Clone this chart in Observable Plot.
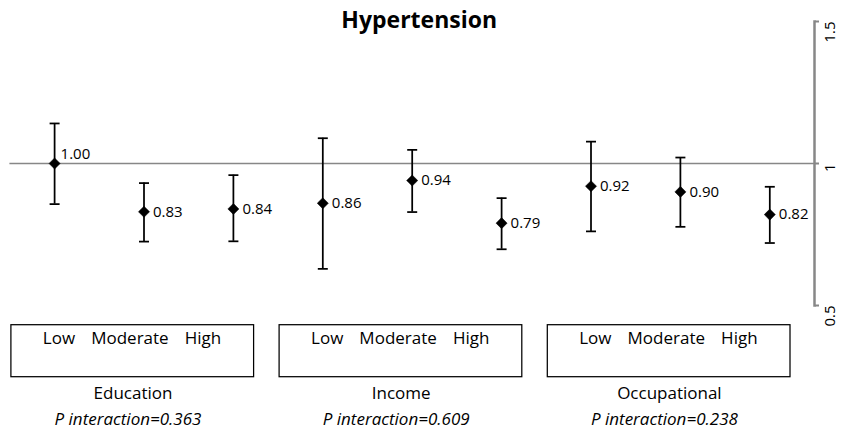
<!DOCTYPE html>
<html><head><meta charset="utf-8">
<script src="https://cdn.jsdelivr.net/npm/d3@7"></script>
<script src="https://cdn.jsdelivr.net/npm/@observablehq/plot@0.6"></script>
<style>body{margin:0;background:#fff;}</style>
</head><body><div id="chart"></div>
<script>
const title = "Hypertension";
const groups = ["Education", "Income", "Occupational"];
const pInteraction = ["0.363", "0.609", "0.238"];
const levels = ["Low", "Moderate", "High"];
const estimates = [1.00, 0.83, 0.84, 0.86, 0.94, 0.79, 0.92, 0.90, 0.82];
const lower = [0.857, 0.725, 0.726, 0.629, 0.829, 0.698, 0.761, 0.777, 0.720];
const upper = [1.141, 0.931, 0.959, 1.089, 1.048, 0.878, 1.077, 1.021, 0.918];
const yTicks = [0.5, 1, 1.5];

const n = levels.length;
const points = estimates.map((est, i) => ({
  i, group: groups[Math.floor(i / n)], level: levels[i % n],
  est, lo: lower[i], hi: upper[i], ref: i === 0
}));
const groupRows = groups.map((g, k) => ({
  g, p: pInteraction[k], start: k * n - 0.5, end: (k + 1) * n - 0.5, mid: k * n + (n - 1) / 2
}));

const gray = "#878787";
const gap = "\u00a0\u00a0\u00a0\u2009";
const capSymbol = {draw(ctx, size) { const w = Math.sqrt(size) / 2; ctx.moveTo(-w, 0); ctx.lineTo(w, 0); }};

const chart = Plot.plot({
  width: 841, height: 436,
  marginLeft: 9.4, marginRight: 27, marginTop: 21, marginBottom: 131,
  style: {fontFamily: "Open Sans", fontSize: "15px", color: "black", background: "white", overflow: "visible"},
  x: {type: "linear", domain: [-0.5, estimates.length - 0.5], axis: null},
  y: {type: "linear", domain: [0.5, 1.5]},
  marks: [
    Plot.ruleY([1], {stroke: gray, strokeWidth: 1.5}),
    Plot.frame({anchor: "right", stroke: gray, strokeWidth: 2.5}),
    Plot.axisY(yTicks, {anchor: "right", tickSize: 4, stroke: gray, strokeWidth: 2, tickFormat: () => "", label: null}),
    Plot.text(yTicks, {y: d => d, text: d => String(d), frameAnchor: "right", dx: 16, rotate: -90, fontSize: 15, fill: "black"}),
    Plot.ruleX(points, {x: "i", y1: "lo", y2: "hi", stroke: "black", strokeWidth: 1.75}),
    Plot.dot(points, {x: "i", y: "lo", symbol: capSymbol, r: 5.64, fill: "none", stroke: "black", strokeWidth: 1.75}),
    Plot.dot(points, {x: "i", y: "hi", symbol: capSymbol, r: 5.64, fill: "none", stroke: "black", strokeWidth: 1.75}),
    Plot.dot(points, {x: "i", y: "est", symbol: "diamond2", r: 5, fill: "black", stroke: "black", strokeWidth: 0.5}),
    Plot.text(points.filter(d => !d.ref), {x: "i", y: "est", text: d => d.est.toFixed(2), textAnchor: "start", dx: 9, fontSize: 15, fill: "black"}),
    Plot.text(points.filter(d => d.ref), {x: "i", y: "est", text: d => d.est.toFixed(2), textAnchor: "start", dx: 6, dy: -9, fontSize: 15, fill: "black"}),
    Plot.rect(groupRows, {x1: "start", x2: "end", fill: "none", stroke: "black", strokeWidth: 1.25, insetLeft: 1.5, insetRight: 24, insetTop: 303.7, insetBottom: -71.7}),
    Plot.text(groupRows, {x: "mid", text: () => levels.join(gap), frameAnchor: "bottom", dy: 38.5, dx: -12, fontSize: 17, fill: "black"}),
    Plot.text(groupRows, {x: "mid", text: "g", frameAnchor: "bottom", dy: 93.2, dx: -11, fontSize: 17, fill: "black"}),
    Plot.text(groupRows, {x: "mid", text: d => `P interaction=${d.p}`, frameAnchor: "bottom", dy: 119, dx: -16, fontSize: 17, fontStyle: "italic", fill: "black"}),
    Plot.text([title], {frameAnchor: "top", text: d => d, dy: -10, dx: 7, fontSize: 23, fontWeight: "bold", fill: "black"})
  ]
});
document.getElementById("chart").append(chart);
</script>
</body></html>
